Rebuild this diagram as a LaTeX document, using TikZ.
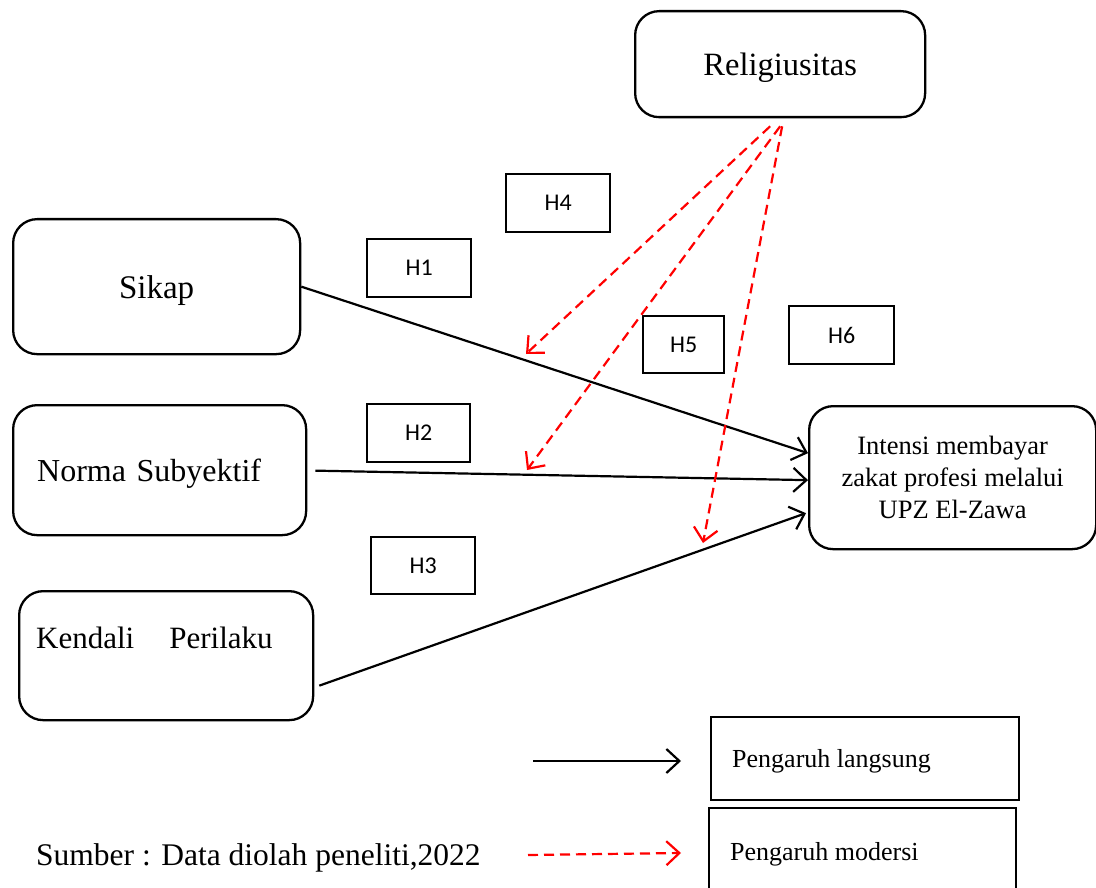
\documentclass[tikz,border=0pt]{standalone}
\usepackage{fontspec}
\setmainfont{Liberation Serif}
\newfontfamily\hfont{Carlito}
\usetikzlibrary{arrows.meta}

\begin{document}
\begin{tikzpicture}[x=1pt,y=-1pt,
  varbox/.style={draw,line width=2.3pt,rounded corners=24pt,anchor=north west,inner sep=0pt,
    font=\fontsize{32}{37}\selectfont},
  hbox/.style={draw,line width=2.3pt,anchor=north west,inner sep=0pt,
    minimum width=104pt,minimum height=58pt,font=\hfont\fontsize{24}{28}\selectfont},
  legbox/.style={draw,line width=2.3pt,anchor=north west,inner sep=0pt},
  legtext/.style={anchor=west,inner sep=0pt,font=\fontsize{26}{30}\selectfont},
  direct/.style={line width=2.2pt,-{Straight Barb[length=13pt,width=24pt,line width=2.2pt]}},
  moder/.style={red,line width=2.2pt,dash pattern=on 10pt off 6pt,
    -{Straight Barb[length=13pt,width=24pt,line width=2.2pt]}}]

\useasboundingbox (0,0) rectangle (1096,888);

% variables
\node[varbox,minimum width=290pt,minimum height=106pt,text height=30pt,text depth=7pt,font=\fontsize{32.5}{37}\selectfont] (rel) at (634,10) {Religiusitas};
\node[varbox,minimum width=287pt,minimum height=135pt,text height=30pt,text depth=7pt,font=\fontsize{33}{38}\selectfont] (sik) at (12,218) {Sikap};
\node[varbox,minimum width=293pt,minimum height=130pt,text height=29pt,text depth=7pt,text width=245pt,align=left] (ns) at (12,404) {Norma Subyektif};
\node[varbox,minimum width=294pt,minimum height=129pt] (kp) at (18,590) {};
\node[anchor=west,inner sep=0pt,font=\fontsize{31}{36}\selectfont] (kpt) at (36,638) {Kendali\hspace{35pt}Perilaku};
\node[varbox,minimum width=287pt,minimum height=143pt,align=center,
  font=\fontsize{26.5}{32}\selectfont] (int) at (808,405)
  {Intensi membayar\\zakat profesi melalui\\UPZ El-Zawa};

% hypothesis labels
\node[hbox] (h4) at (505,173) {H4};
\node[hbox] (h1) at (366,238) {H1};
\node[hbox,minimum width=81pt,minimum height=57pt] (h5) at (642,315) {H5};
\node[hbox,minimum width=105pt] (h6) at (788,305) {H6};
\node[hbox,minimum width=103pt] (h2) at (366,403) {H2};
\node[hbox,minimum height=57pt] (h3) at (370,536) {H3};

% direct effects
\draw[direct] (sik.east) -- ([yshift=24.5pt]int.west);
\draw[direct] ([xshift=8pt,yshift=-0.5pt]ns.east) -- ([yshift=-2.5pt]int.west);
\draw[direct] ([xshift=5pt,yshift=-30pt]kp.east) -- ([xshift=-2pt,yshift=-35.5pt]int.west);

% moderating effects
\coordinate (m1) at (526,354);
\coordinate (m2) at (527,470);
\coordinate (m3) at (703,543);
\draw[moder] ([xshift=-10pt,yshift=-8pt]rel.south) -- (m1);
\draw[moder] ([xshift=0pt,yshift=-8pt]rel.south) -- (m2);
\draw[moder] ([xshift=2pt,yshift=-8pt]rel.south) -- (m3);

% legend
\node[legbox,minimum width=308pt,minimum height=83pt] (lg1) at (710,716) {};
\node[legtext] (lg1t) at (732,761) {Pengaruh langsung};
\node[legbox,minimum width=307pt,minimum height=95pt] (lg2) at (708,807) {};
\node[legtext] (lg2t) at (730,854) {Pengaruh modersi};
\coordinate (la1) at (533,761);
\coordinate (la2) at (681,761);
\coordinate (lb1) at (528,855);
\coordinate (lb2) at (681,853);
\draw[direct] (la1) -- (la2);
\draw[moder] (lb1) -- (lb2);

\node[anchor=west,inner sep=0pt,font=\fontsize{31.5}{36}\selectfont] (src) at (36,858)
  {Sumber : Data diolah peneliti,2022};
\end{tikzpicture}
\end{document}
